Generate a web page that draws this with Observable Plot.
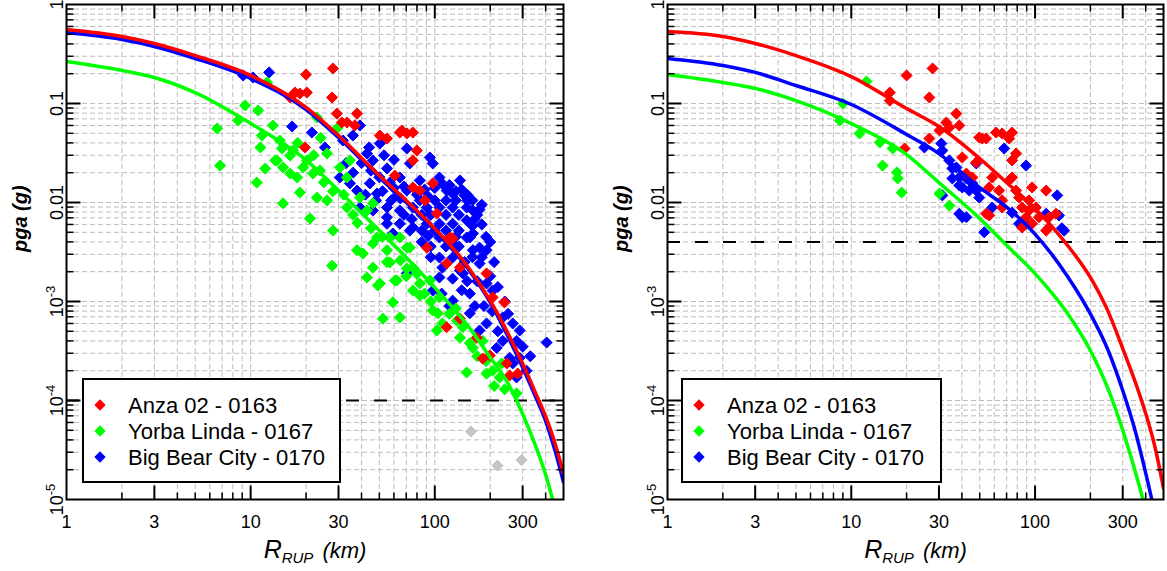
<!DOCTYPE html>
<html><head><meta charset="utf-8">
<script src="https://cdn.jsdelivr.net/npm/d3@7"></script>
<script src="https://cdn.jsdelivr.net/npm/@observablehq/plot@0.6"></script>
<style>
body{margin:0;background:#fff;font-family:"Liberation Sans",Arial,sans-serif;}
#wrap{display:flex;width:1167px;height:571px;}
.panel{position:relative;height:571px;}
.legend{position:absolute;top:378px;height:105px;border:2px solid #000;background:#fff;box-sizing:border-box;}
.item{position:absolute;height:26px;line-height:26px;font-size:22px;white-space:nowrap;color:#000;}
.sw{position:absolute;width:8px;height:8px;transform:rotate(45deg);}
</style></head><body>
<div id="wrap"><div class="panel" id="p1" style="width:583px"></div><div class="panel" id="p2" style="width:584px"></div></div>
<script>
// ---------- data ----------
const seriesNames = ["Anza 02 - 0163", "Yorba Linda - 0167", "Big Bear City - 0170"];
const seriesColors = ["#ff0000", "#00ff00", "#0000ff"];

const xMajor = [1, 3, 10, 30, 100, 300];
const xLabels = ["1", "3", "10", "30", "100", "300"];
const yMajor = [1, 0.1, 0.01, 0.001, 1e-4, 1e-5];
const yLabels = ["1", "0.1", "0.01", "10^-3", "10^-4", "10^-5"];
const xTitle = "R_RUP (km)";
const yTitle = "pga (g)";

// GMPE curves (R_RUP in km, pga in g)
const curveR = [1, 2, 3, 5, 10, 20, 30, 50, 70, 100, 150, 200, 250, 300, 350, 400, 450, 500];
const p1Red   = [0.559,0.475,0.404,0.305,0.192,0.0912,0.0475,0.01875,0.01047,0.00546,0.0023,0.00102,4.75e-4,2.36e-4,1.23e-4,6.9e-5,3.68e-5,1.83e-5];
const p1Green = [0.266,0.216,0.183,0.129,0.0628,0.0268,0.0132,0.0052,0.00278,0.00138,5.8e-4,2.72e-4,1.49e-4,7.3e-5,3.6e-5,1.78e-5,8.0e-6,3.4e-6];
const p1Blue  = [0.521,0.443,0.377,0.285,0.179,0.087,0.0453,0.0179,0.0100,0.0052,0.0022,9.8e-4,4.4e-4,2.15e-4,1.12e-4,6.2e-5,3.1e-5,1.5e-5];
const p2Red   = [0.533,0.475,0.404,0.305,0.187,0.089,0.0586,0.0278,0.0159,0.00869,0.0037,0.00175,7.9e-4,3.35e-4,1.56e-4,7.4e-5,3.35e-5,1.3e-5];
const p2Green = [0.196,0.163,0.142,0.107,0.0627,0.0305,0.0159,0.0069,0.0037,0.00191,7.6e-4,3.2e-4,1.3e-4,5.0e-5,1.95e-5,7.8e-6,3e-6,1e-6];
const p2Blue  = [0.285,0.242,0.206,0.152,0.0977,0.0487,0.0312,0.0141,0.0090,0.0048,0.0018,7.5e-4,3.2e-4,1.26e-4,5.0e-5,1.85e-5,7e-6,2.5e-6];

// reference (dashed) levels
const p1RefLevel = 1e-4;
const p2RefLevel = 0.004;

// recordings [R_RUP km, pga g]
const p1RedPts = [[20.0,0.196],[28.0,0.226],[16.4,0.115],[17.4,0.129],[18.5,0.126],[20.2,0.129],[27.7,0.115],[29.4,0.079],[31.3,0.0643],[33.3,0.0643],[37.8,0.079],[36.8,0.060],[19.7,0.036],[50.3,0.0475],[55.0,0.0443],[64.6,0.0509],[70.5,0.0498],[76.0,0.0509],[79.9,0.0335],[76.0,0.0266],[76.0,0.0142],[97.5,0.0156],[82.9,0.0132],[102.5,0.00774],[90.5,0.0035],[121,0.00443],[116,0.00242],[125,0.00433],[137,0.0022],[191,0.00192],[206,0.0011],[239,9.8e-4],[137,6.7e-4],[116,5.5e-4],[169,4.3e-4],[182,2.65e-4],[246,2.37e-4],[255,1.79e-4],[282,1.87e-4],[199,2.85e-4],[66.2,0.0534],[60.7,0.0187],[88.3,0.0105]];
const p1GreenPts = [[6.58,0.0559],[6.83,0.0236],[9.34,0.0955],[8.55,0.0673],[10.98,0.085],[10.8,0.0159],[11.3,0.036],[11.5,0.0475],[12.3,0.163],[13.2,0.060],[13.6,0.0266],[14.8,0.0351],[15.0,0.0098],[15.0,0.0226],[16.4,0.0298],[17.0,0.0335],[16.4,0.0196],[18.5,0.0126],[17.9,0.0179],[19.3,0.0226],[21.0,0.0069],[21.8,0.0196],[22.9,0.0112],[20.2,0.0266],[14.4,0.0423],[13.9,0.0266],[28.0,0.0052],[27.7,0.0023],[22.9,0.0722],[29.4,0.0559],[26.0,0.0313],[23.8,0.0211],[30.5,0.0226],[34.6,0.0266],[33.3,0.0179],[26.0,0.0105],[33.3,0.0089],[39.2,0.0112],[42.8,0.0083],[46.1,0.0098],[37.8,0.0033],[40.7,0.00305],[42.8,0.00175],[50.3,0.00152],[62.2,0.00163],[46.1,0.00385],[55.0,0.0033],[57.0,0.00443],[64.6,0.00443],[70.5,0.0035],[76.0,0.0022],[82.9,0.00152],[94.0,0.00163],[106,0.0011],[48.5,0.00443],[46.1,0.0022],[49.1,0.00145],[60.7,0.00163],[59.2,9.8e-4],[52.3,6.7e-4],[64.6,6.9e-4],[73.2,0.0035],[76.0,0.00129],[82.9,0.00115],[97.5,8.1e-4],[104,7.6e-4],[110,6.0e-4],[132,6.4e-4],[142,5.5e-4],[102.5,5.1e-4],[137,4.3e-4],[155,3.8e-4],[161,3.4e-4],[182,4.0e-4],[149,1.92e-4],[191,1.87e-4],[206,2.0e-4],[225,1.71e-4],[231,2.37e-4],[278,1.18e-4],[70.5,0.00215],[57.0,0.00248],[25,0.016],[28,0.013],[32,0.012],[36,0.0075],[38,0.0062],[45,0.0055],[52,0.0045],[55,0.0025],[65,0.0026],[70,0.0018],[80,0.0019],[88,0.0012],[95,0.001],[120,7.5e-4],[130,8.5e-4],[170,2.8e-4],[190,2.5e-4],[210,1.4e-4],[240,1.3e-4],[18,0.04],[22,0.03],[24,0.045],[12,0.022]];
const p1BluePts = [[12.6,0.206],[9.11,0.192],[10.3,0.183],[16.8,0.0586],[21.5,0.0509],[25.3,0.036],[31.7,0.0423],[35.9,0.0475],[39.2,0.060],[50.3,0.0394],[42.8,0.0313],[46.1,0.0266],[70.5,0.0351],[73.2,0.0248],[94.0,0.0285],[97.5,0.0248],[55.0,0.0221],[64.6,0.0179],[57.0,0.0159],[70.5,0.0132],[106,0.0179],[116,0.0132],[125,0.0123],[34.6,0.0156],[37.8,0.0132],[30.5,0.0179],[44.4,0.0156],[48.5,0.0123],[39.2,0.0089],[46.1,0.0083],[55.0,0.0089],[64.6,0.0083],[76.0,0.0089],[90.5,0.0089],[106,0.0089],[125,0.0089],[149,0.0089],[161,0.0083],[55.0,0.0061],[64.6,0.0061],[76.0,0.0056],[90.5,0.0061],[106,0.0061],[125,0.0061],[149,0.0066],[161,0.00486],[106,0.00443],[125,0.00385],[149,0.00443],[161,0.0033],[191,0.0033],[106,0.00278],[125,0.00278],[137,0.00206],[175,0.00242],[106,0.00175],[191,0.00152],[206,0.00129],[97.5,0.00129],[70.5,0.00192],[59.2,0.00486],[55.0,0.0071],[73.2,0.0052],[155,0.00443],[175,0.0035],[142,0.00192],[155,0.0012],[125,0.00102],[155,7.6e-4],[191,6.0e-4],[234,6.9e-4],[289,5.1e-4],[278,4.0e-4],[234,4.0e-4],[217,3.4e-4],[255,2.7e-4],[289,2.7e-4],[315,2.0e-4],[265,2.37e-4],[278,1.71e-4],[405,3.85e-4],[109,0.0012],[175,5.1e-4],[82.9,0.0105],[62.2,0.0118],[82.9,0.0167],[137,0.0167],[145,0.0118],[115,0.0075],[135,0.0075],[95,0.0075],[85,0.0075],[100,0.0105],[115,0.0105],[130,0.0105],[150,0.0105],[170,0.0075],[180,0.0095],[85,0.0052],[100,0.0052],[115,0.0052],[135,0.0052],[160,0.0058],[95,0.0036],[115,0.0036],[135,0.0036],[180,0.0028],[160,0.0028],[150,0.0016],[170,0.0016],[185,0.0009],[205,0.0008],[220,0.0005],[40,0.025],[45,0.021],[50,0.018],[52,0.013],[60,0.014],[65,0.011],[68,0.0145],[80,0.012],[88,0.0135],[92,0.0115],[100,0.014],[110,0.0155],[120,0.015],[130,0.013],[140,0.0135],[150,0.012],[160,0.0105],[175,0.0085],[165,0.0068],[180,0.006],[190,0.0045],[200,0.004],[210,0.0025],[200,0.0018],[220,0.0014],[240,0.001],[250,0.00075],[265,0.0006],[300,0.00035],[330,0.00028],[75,0.0068],[68,0.0075],[58,0.0105],[48,0.0105],[42,0.012],[36,0.02],[33,0.025],[44,0.036],[53,0.03],[60,0.027],[85,0.004],[95,0.0028],[110,0.0022],[125,0.0017],[140,0.0013],[120,0.0009],[165,0.0009],[145,0.0025],[130,0.0045],[92,0.0046]];
const p1GrayPts = [[157,4.86e-5],[219,2.2e-5],[296,2.5e-5]];

const p2RedPts = [[20.0,0.192],[27.7,0.226],[26.6,0.115],[16.2,0.129],[16.2,0.107],[26.6,0.0443],[19.5,0.0351],[37.3,0.079],[38.7,0.060],[32.9,0.0643],[30.2,0.0534],[34.2,0.0573],[40.2,0.0285],[47.9,0.0254],[49.7,0.0454],[51.6,0.0443],[54.2,0.0443],[61.4,0.0509],[66.2,0.0498],[75.0,0.0509],[72.3,0.0443],[78.9,0.0313],[75.0,0.0266],[58.5,0.0179],[56.3,0.0142],[63.8,0.0132],[75.0,0.0179],[78.9,0.0132],[81.9,0.0112],[96.3,0.0142],[115,0.0132],[66.2,0.0089],[85.1,0.0089],[92.8,0.0083],[101,0.0089],[105,0.0071],[96.3,0.0061],[119,0.0071],[130,0.0077],[119,0.0056],[85.1,0.0056],[54.2,0.0077],[66.2,0.0105],[92.8,0.0105],[115,0.0052],[42.3,0.0196],[45.6,0.0179],[72.3,0.0167],[89.4,0.0071],[56.3,0.0074]];
const p2GreenPts = [[12.1,0.167],[9.0,0.100],[8.66,0.0673],[11.1,0.0498],[14.3,0.0404],[16.8,0.0351],[14.8,0.0236],[17.7,0.0201],[17.9,0.0175],[18.8,0.0126],[30.2,0.0123],[34.2,0.0093]];
const p2BluePts = [[25.0,0.036],[31.3,0.0335],[30.9,0.0394],[37.3,0.0226],[38.7,0.0179],[35.5,0.0175],[42.3,0.0175],[45.6,0.0156],[43.9,0.0132],[47.9,0.0132],[49.7,0.0112],[40.2,0.0142],[31.3,0.0118],[38.7,0.0077],[42.3,0.0071],[52.9,0.0050],[58.5,0.0089],[67.9,0.0351],[89.4,0.0236],[75.0,0.0079],[81.9,0.0061],[89.4,0.0061],[115,0.0077],[132,0.0118],[144,0.0052],[47.9,0.0248],[35.5,0.0221],[40.2,0.0071],[135,0.0074],[140,0.0055],[34.2,0.0266],[38.7,0.0149]];

// ---------- ticks ----------
const xMinor = [];
for (const d of [1, 10, 100]) for (const m of [2, 4, 5, 6, 7, 8, 9]) if (d * m < 500) xMinor.push(d * m);
const xMajorInner = xMajor.filter(v => v > 1);
const yMinor = [];
for (const d of [1e-5, 1e-4, 1e-3, 1e-2, 1e-1]) for (const m of [2, 3, 4, 5, 6, 7, 8, 9]) yMinor.push(d * m);
const yMajorInner = yMajor.filter(v => v < 1 && v > 1e-5);
const gridX = [...xMinor, ...xMajorInner];
const gridY = [...yMinor, ...yMajorInner];

const tickSym = (dx, dy) => ({draw(ctx, size) { const l = Math.sqrt(size / Math.PI); ctx.moveTo(0, 0); ctx.lineTo(dx * l, dy * l); }});
const ns = "http://www.w3.org/2000/svg";
function ts(txt, attrs = {}) { const e = document.createElementNS(ns, "tspan"); e.textContent = txt; for (const k in attrs) e.setAttribute(k, attrs[k]); return e; }
function enrich(svg) {
  svg.querySelectorAll("text").forEach(t => {
    const s = t.textContent; let m;
    if ((m = s.match(/^(\d+)\^(-?\d+)$/))) {
      t.textContent = "";
      t.append(ts(m[1]), ts(m[2], {dy: -8, "font-size": 13}));
    } else if ((m = s.match(/^(\w)_(\w+) (.*)$/))) {
      t.textContent = "";
      t.append(ts(m[1]), ts(m[2], {dy: 5, "font-size": 15}), ts(m[3], {dy: -5, dx: 9, "font-size": 22}));
    }
  });
}

function ticksMarks() {
  const out = [];
  for (const [fa, dx, dy] of [["bottom", 0, -1], ["top", 0, 1]]) {
    out.push(Plot.dot(xMajorInner, {x: d => d, frameAnchor: fa, symbol: tickSym(dx, dy), r: 14, fill: "none", stroke: "#000", strokeWidth: 2}));
    out.push(Plot.dot(xMinor, {x: d => d, frameAnchor: fa, symbol: tickSym(dx, dy), r: 7, fill: "none", stroke: "#000", strokeWidth: 1.5}));
  }
  for (const [fa, dx, dy] of [["left", 1, 0], ["right", -1, 0]]) {
    out.push(Plot.dot(yMajorInner, {y: d => d, frameAnchor: fa, symbol: tickSym(dx, dy), r: 14, fill: "none", stroke: "#000", strokeWidth: 2}));
    out.push(Plot.dot(yMinor, {y: d => d, frameAnchor: fa, symbol: tickSym(dx, dy), r: 7, fill: "none", stroke: "#000", strokeWidth: 1.5}));
  }
  return out;
}

function panel(el, {width, marginLeft, marginRight, curves, pts, gray, ref, legendLeft, legendWidth}) {
  const ptStyle = c => ({x: d => d[0], y: d => d[1], symbol: "diamond2", r: 5, fill: c, stroke: c, strokeWidth: 1});
  const marks = [
    Plot.ruleX(gridX, {stroke: "#bcbcbc", strokeDasharray: "5,3", strokeWidth: 1}),
    Plot.ruleY(gridY, {stroke: "#bcbcbc", strokeDasharray: "5,3", strokeWidth: 1}),
    Plot.ruleY([ref], {stroke: "#000", strokeWidth: 2, strokeDasharray: "13,15"})
  ];
  if (gray) marks.push(Plot.dot(gray, ptStyle("#c4c4c4")));
  marks.push(Plot.dot(pts[2], ptStyle(seriesColors[2])));
  marks.push(Plot.dot(pts[1], ptStyle(seriesColors[1])));
  marks.push(Plot.dot(pts[0], ptStyle(seriesColors[0])));
  for (const k of [1, 2, 0]) {
    const data = curveR.map((R, i) => ({R, pga: curves[k][i]}));
    marks.push(Plot.line(data, {x: "R", y: "pga", stroke: seriesColors[k], strokeWidth: 3.5, curve: "monotone-x", clip: true}));
  }
  marks.push(Plot.frame({stroke: "#000", strokeWidth: 2}));
  marks.push(...ticksMarks());
  marks.push(Plot.text(xMajor, {x: d => d, text: (d, i) => xLabels[i], frameAnchor: "bottom", dy: 23, lineAnchor: "middle", fontSize: 18, fill: "#000"}));
  marks.push(Plot.text(yMajor, {y: d => d, text: (d, i) => yLabels[i], frameAnchor: "left", dx: -4, rotate: -90, textAnchor: "middle", lineAnchor: "bottom", fontSize: 18, fill: "#000"}));
  marks.push(Plot.text([xTitle], {text: d => d, frameAnchor: "bottom", dy: 58, lineAnchor: "bottom", fontSize: 25, fontStyle: "italic", fill: "#000"}));
  marks.push(Plot.text([yTitle], {text: d => d, frameAnchor: "left", dx: -46, rotate: -90, lineAnchor: "middle", fontSize: 20, fontWeight: "bold", fontStyle: "italic", fill: "#000"}));

  const svg = Plot.plot({
    width, height: 571, marginLeft, marginRight, marginTop: 4, marginBottom: 72,
    style: {fontFamily: "'Liberation Sans', Arial, sans-serif", background: "#fff", overflow: "visible"},
    x: {type: "log", domain: [1, 500], axis: null},
    y: {type: "log", domain: [1e-5, 1], axis: null},
    marks
  });
  enrich(svg);
  el.appendChild(svg);

  const lg = document.createElement("div");
  lg.className = "legend";
  lg.style.left = legendLeft + "px";
  lg.style.width = legendWidth + "px";
  seriesNames.forEach((name, i) => {
    const sw = document.createElement("div");
    sw.className = "sw"; sw.style.background = seriesColors[i];
    sw.style.left = "12px"; sw.style.top = (21 + 26 * i) + "px";
    const it = document.createElement("div");
    it.className = "item"; it.textContent = name;
    it.style.left = "44px"; it.style.top = (13 + 26 * i) + "px";
    lg.append(sw, it);
  });
  el.appendChild(lg);
}

panel(document.getElementById("p1"), {width: 583, marginLeft: 66, marginRight: 20,
  curves: [p1Red, p1Green, p1Blue], pts: [p1RedPts, p1GreenPts, p1BluePts], gray: p1GrayPts,
  ref: p1RefLevel, legendLeft: 82, legendWidth: 259});
panel(document.getElementById("p2"), {width: 584, marginLeft: 84, marginRight: 4,
  curves: [p2Red, p2Green, p2Blue], pts: [p2RedPts, p2GreenPts, p2BluePts], gray: null,
  ref: p2RefLevel, legendLeft: 98, legendWidth: 261});
</script>
</body></html>
